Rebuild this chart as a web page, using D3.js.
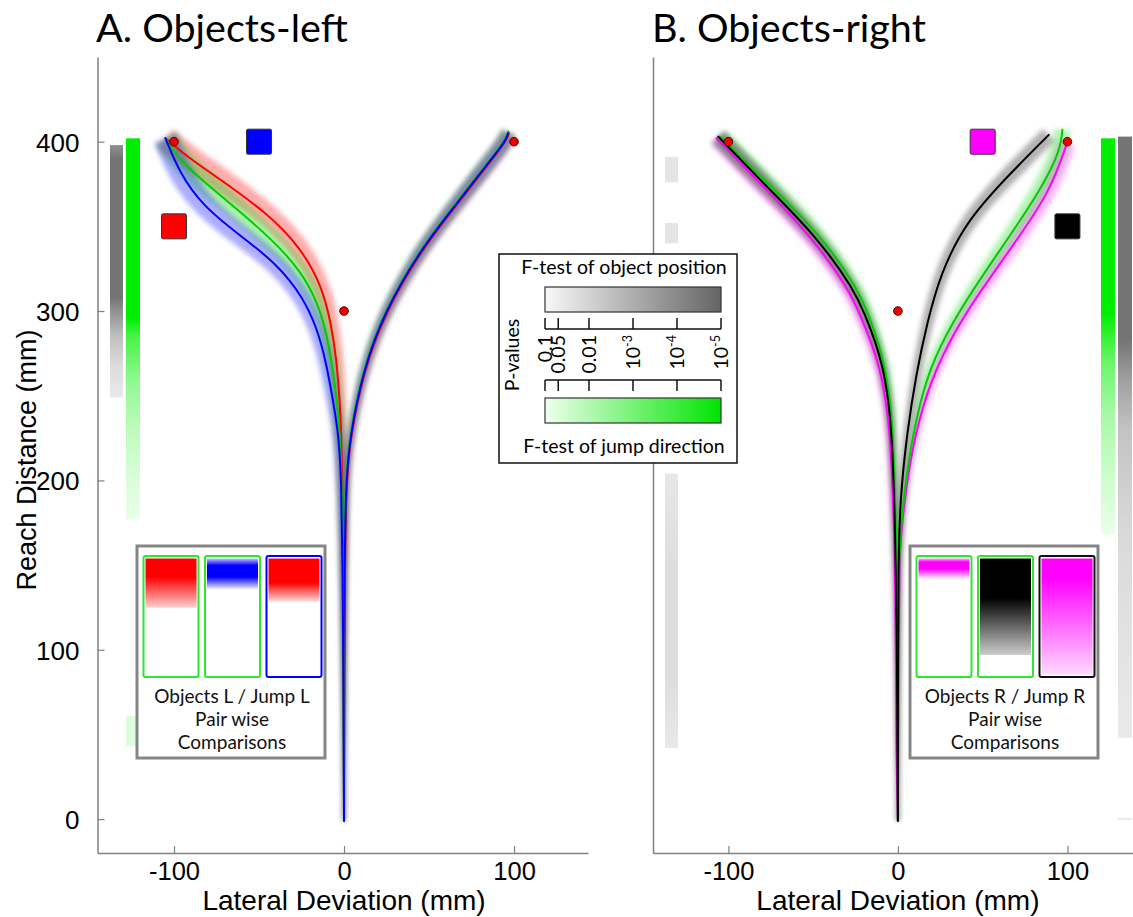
<!DOCTYPE html>
<html><head><meta charset="utf-8">
<script src="https://cdn.jsdelivr.net/npm/d3@7"></script>
<style>body{margin:0;background:#fff}svg{display:block}</style>
</head><body>
<svg id="c" width="1133" height="917"></svg>
<script>
// ---------------- DATA ----------------
const xTicks = [-100, 0, 100];
const yTicks = [0, 100, 200, 300, 400];
const targetDots = [[-100, 400], [100, 400], [0, 300]];
const cuesA = [{x: -100, y: 350, c: "#ff0000"}, {x: -50, y: 400, c: "#0000ff"}];
const cuesB = [{x: 50, y: 400, c: "#ff00ff"}, {x: 100, y: 350, c: "#000000"}];

// Panel A trajectories [lateral mm, reach mm]
const aRedL   = [[0,-1],[-0.3,80],[-0.6,150],[-1,200],[-1.6,225],[-2.4,246],[-4.5,272],[-7.5,292],[-13,315],[-25.9,338],[-45.3,358],[-74.7,379],[-92,391],[-105,402]];
const aGreenL = [[0,-1],[-0.3,80],[-0.7,150],[-1.3,200],[-2.3,225],[-4,246],[-7.5,272],[-12,295],[-20,315],[-33,333],[-55.3,354],[-84.7,378],[-98,391],[-105,402]];
const aBlueL  = [[0,-1],[-0.3,80],[-0.8,150],[-1.6,200],[-3,225],[-6.2,246],[-11,272],[-16,290],[-24,308],[-39.4,328],[-63,346],[-83,362],[-97,382],[-105,402]];
const aRedR   = [[0,-1],[0.2,100],[0.8,196],[3.8,226],[11.6,265],[24.6,300],[45.6,336],[62.6,358],[79.6,380],[95.3,400],[97,405]];
const aGreenR = [[0,-1],[0,100],[0.4,196],[3.2,226],[10.8,265],[23.6,300],[44.5,336],[61.5,358],[78.5,380],[94.5,400],[96.5,406]];
const aBlueR  = [[0,-1],[0.1,100],[0.6,196],[3.5,226],[11.2,265],[24,300],[45,336],[62,358],[79,380],[95,400],[96.5,405]];

// Panel B trajectories
const bMagL   = [[0,-1],[-1,40],[-1.2,110],[-2,169],[-4.5,228],[-7.5,250],[-11,267],[-15.5,281],[-22,297],[-29,313],[-51,344],[-79,373],[-107,402]];
const bGreenL = [[0,-1],[0,60],[-0.3,110],[-1,169],[-2.8,228],[-5,250],[-7.8,267],[-11.5,281],[-17,297],[-23.5,313],[-45,344],[-74,373],[-105,403]];
const bBlackL = [[0,-1],[-0.4,60],[-0.6,110],[-1.5,169],[-3.5,228],[-6,250],[-9,267],[-13,281],[-19,297],[-26,313],[-48,344],[-77,373],[-106,403]];
const bMagR   = [[0,-1],[0.3,100],[0.8,150],[1.8,169],[6.2,208],[14.5,245],[25.5,273],[41,301],[66,336],[89.7,370],[99.7,399]];
const bGreenR = [[0,-1],[0.2,100],[0.6,150],[1.5,169],[5.3,208],[13,247],[21,272],[36.6,301],[56,330],[79.6,364],[95.6,393],[97,407]];
const bBlackR = [[0,-1],[0,100],[0.3,150],[1.2,188],[5.3,228],[11,264],[17,292],[25,322],[40.7,354],[68,383],[89,404]];

// p-value bars along reach distance: reach (mm) and log10(p)
const aPosReach  = [249, 268, 285, 300, 308, 390, 398];
const aPosLogP   = [-1.1, -1.5, -2.3, -3.6, -4.4, -4.4, -3.6];
const aJumpReach = [177, 200, 230, 260, 285, 296, 402];
const aJumpLogP  = [-1.05, -1.3, -1.8, -2.6, -3.8, -5, -5];
const aJump2Reach = [43, 61];
const aJump2LogP  = [-1.25, -1.25];
const bJumpReach = [168, 200, 240, 270, 299, 402];
const bJumpLogP  = [-1.05, -1.5, -2.2, -3.2, -5, -5];
const bPosReach  = [48, 100, 170, 230, 260, 283, 403];
const bPosLogP   = [-1.1, -1.3, -1.6, -2.2, -3.2, -4.4, -4.4];
const bPos2Reach = [-0.5, 0.8];
const bPos2LogP  = [-1.1, -1.1];
const bPosLeft1Reach = [376, 391];
const bPosLeft1LogP  = [-1.25, -1.25];
const bPosLeft2Reach = [340, 352];
const bPosLeft2LogP  = [-1.25, -1.25];
const bPosLeft3Reach = [42, 80, 150, 204];
const bPosLeft3LogP  = [-1.15, -1.45, -1.45, -1.2];

// legend p-value ticks
const pTicks = [0.1, 0.05, 0.01, 1e-3, 1e-4, 1e-5];
const pLabels = [["0.1"], ["0.05"], ["0.01"], ["10", "-3"], ["10", "-4"], ["10", "-5"]];

// pairwise comparison insets: position from top (0..1) and opacity
const insetA = [
  {stroke: "#2ee62e", color: "#ff0000", pos: [0, 0.16, 0.42, 0.425, 1], op: [1, 1, 0.2, 0, 0]},
  {stroke: "#2ee62e", color: "#0000ff", pos: [0, 0.06, 0.16, 0.27, 1], op: [0.25, 1, 1, 0, 0]},
  {stroke: "#0000ff", color: "#ff0000", pos: [0, 0.21, 0.37, 0.375, 1], op: [1, 1, 0.15, 0, 0]}
];
const insetB = [
  {stroke: "#2ee62e", color: "#ff00ff", pos: [0, 0.03, 0.09, 0.18, 1], op: [0.35, 1, 1, 0, 0]},
  {stroke: "#2ee62e", color: "#000000", pos: [0, 0.34, 0.83, 0.835, 1], op: [1, 1, 0.2, 0, 0]},
  {stroke: "#111111", color: "#ff00ff", pos: [0, 0.17, 1], op: [1, 1, 0.15]}
];

// ---------------- DRAW ----------------
const svg = d3.select("#c");
const defs = svg.append("defs");
defs.append("filter").attr("id", "soft").attr("x", "-30%").attr("y", "-10%").attr("width", "160%").attr("height", "120%")
  .append("feGaussianBlur").attr("stdDeviation", 2.4);

const y = d3.scaleLinear().domain([-20, 450]).range([853, 57]);
const xA = d3.scaleLinear().domain([-145, 143.5]).range([97.5, 588]);
const xB = d3.scaleLinear().domain([-144.5, 145]).range([653, 1143.7]);
const grayScale = d3.scaleLinear().domain([-1, -5]).range(["#eeeeee", "#5f5f5f"]);
const greenScale = d3.scaleLinear().domain([-1, -5]).range(["#ecffec", "#00ee00"]);
const AX = "#808080";
const ARIAL = "Liberation Sans, Arial, sans-serif";
const CAL = "Lato, 'Open Sans', sans-serif";
const curve = d3.curveBasis;

let gid = 0;
function pBar(g, x0, w, reach, logp, scale) {
  const id = "pg" + (gid++);
  const r0 = reach[0], r1 = reach[reach.length - 1];
  const grad = defs.append("linearGradient").attr("id", id).attr("gradientUnits", "userSpaceOnUse")
    .attr("x1", 0).attr("x2", 0).attr("y1", y(r0)).attr("y2", y(r1));
  reach.forEach((r, i) => grad.append("stop").attr("offset", (r - r0) / (r1 - r0)).attr("stop-color", scale(logp[i])));
  g.append("rect").attr("x", x0).attr("width", w).attr("y", y(r1)).attr("height", y(r0) - y(r1)).attr("fill", `url(#${id})`);
}

function band(g, x, pts, color, op, hwMax) {
  const line = d3.line().x(d => x(d[0])).y(d => y(d[1])).curve(curve);
  const p = g.append("path").attr("d", line(pts));
  const node = p.node(), L = node.getTotalLength(), n = 240;
  const s = d3.range(n + 1).map(i => node.getPointAtLength(L * i / n));
  p.remove();
  const left = [], right = [];
  s.forEach((pt, i) => {
    const a = s[Math.max(0, i - 2)], b = s[Math.min(n, i + 2)];
    let dx = b.x - a.x, dy = b.y - a.y; const len = Math.hypot(dx, dy) || 1;
    const nx = -dy / len, ny = dx / len;
    const r = Math.min(1, Math.max(0, y.invert(pt.y)) / 380);
    const hw = 0.8 + (hwMax - 0.8) * Math.pow(r, 1.6);
    left.push([pt.x + nx * hw, pt.y + ny * hw]);
    right.push([pt.x - nx * hw, pt.y - ny * hw]);
  });
  g.append("path").attr("d", d3.line()(left.concat(right.reverse())) + "Z")
    .attr("fill", color).attr("fill-opacity", op).attr("filter", "url(#soft)");
}
function traj(g, x, pts, color, w) {
  const line = d3.line().x(d => x(d[0])).y(d => y(d[1])).curve(curve);
  g.append("path").attr("d", line(pts)).attr("fill", "none").attr("stroke", color)
    .attr("stroke-width", w || 2).attr("stroke-linecap", "round");
}

function axes(g, x, showY, title, tx) {
  const xa = d3.axisBottom(x).tickValues(xTicks).tickSize(-7).tickSizeOuter(0).tickFormat(d3.format("d"));
  const gx = g.append("g").attr("transform", `translate(0,${y(-20)})`).call(xa);
  gx.select(".domain").attr("stroke", AX).attr("stroke-width", 1.5);
  gx.selectAll(".tick line").attr("stroke", AX).attr("stroke-width", 1.2);
  gx.selectAll("text").attr("y", 27).attr("dy", 0).attr("font-size", 25.5).attr("font-family", ARIAL).attr("fill", "#000")
    .text(d => d < 0 ? "-" + Math.abs(d) : d);
  const ya = d3.axisLeft(y).tickValues(showY ? yTicks : []).tickSize(-7).tickSizeOuter(0).tickPadding(18);
  const gy = g.append("g").attr("transform", `translate(${x.range()[0]},0)`).call(ya);
  gy.select(".domain").attr("stroke", AX).attr("stroke-width", 1.5);
  gy.selectAll(".tick line").attr("stroke", AX).attr("stroke-width", 1.2);
  gy.selectAll("text").attr("font-size", 26).attr("font-family", ARIAL).attr("fill", "#000").attr("dy", "0.36em");
  g.append("text").attr("x", x(0)).attr("y", 910).attr("text-anchor", "middle").attr("font-family", ARIAL)
    .attr("font-size", 28).text("Lateral Deviation (mm)");
  g.append("text").attr("x", tx).attr("y", 42).attr("font-family", CAL).attr("font-size", 39.5).text(title);
}

function marks(g, x, cues) {
  g.selectAll(".cue").data(cues).join("rect").attr("x", d => x(d.x) - 12.5).attr("y", d => y(d.y) - 12.5)
    .attr("width", 25).attr("height", 25).attr("rx", 1.5).attr("fill", d => d.c).attr("stroke", "#333").attr("stroke-width", 1);
  g.selectAll(".dot").data(targetDots).join("circle").attr("cx", d => x(d[0])).attr("cy", d => y(d[1])).attr("r", 4.3)
    .attr("fill", "#ee0000").attr("stroke", "#550000").attr("stroke-width", 1);
}

function inset(g, x0, y0, w, h, rects, lines) {
  g.append("rect").attr("x", x0).attr("y", y0).attr("width", w).attr("height", h).attr("fill", "#fff")
    .attr("stroke", "#858585").attr("stroke-width", 3);
  const rw = 55, gap = 6.5, rx0 = x0 + 6.5, ry0 = y0 + 10, rh = 121;
  rects.forEach((r, i) => {
    const id = "ins" + (gid++);
    const grad = defs.append("linearGradient").attr("id", id).attr("x1", 0).attr("x2", 0).attr("y1", 0).attr("y2", 1);
    r.pos.forEach((p, k) => grad.append("stop").attr("offset", p).attr("stop-color", r.color).attr("stop-opacity", r.op[k]));
    g.append("rect").attr("x", rx0 + i * (rw + gap)).attr("y", ry0).attr("width", rw).attr("height", rh).attr("rx", 2)
      .attr("fill", "#fff").attr("stroke", r.stroke).attr("stroke-width", 2);
    g.append("rect").attr("x", rx0 + i * (rw + gap) + 2).attr("y", ry0 + 2.5).attr("width", rw - 4).attr("height", rh - 5)
      .attr("fill", `url(#${id})`);
  });
  lines.forEach((t, i) => g.append("text").attr("x", x0 + w / 2 + 1).attr("y", y0 + 157 + i * 23).attr("text-anchor", "middle")
    .attr("font-family", CAL).attr("font-size", 19).attr("fill", "#111").text(t));
}

// ---- Panel A ----
const gA = svg.append("g");
pBar(gA, 110, 13, aPosReach, aPosLogP, grayScale);
pBar(gA, 126, 14, aJumpReach, aJumpLogP, greenScale);
pBar(gA, 126, 14, aJump2Reach, aJump2LogP, greenScale);
axes(gA, xA, true, "A. Objects-left", 96);
gA.append("text").attr("transform", `translate(36,460) rotate(-90)`).attr("text-anchor", "middle").attr("font-family", ARIAL)
  .attr("font-size", 27).text("Reach Distance (mm)");
[[aRedR, "#ff0000"], [aGreenR, "#00dd00"], [aBlueR, "#0000ff"]].forEach(([p, c]) => band(gA, xA, p, c, 0.3, 7.5));
[[aRedL, "#ff0000"], [aGreenL, "#00dd00"], [aBlueL, "#0000ff"]].forEach(([p, c]) => band(gA, xA, p, c, 0.32, 12));
[[aRedR, "#ff0000"], [aGreenR, "#00cc00"], [aBlueR, "#0000ff"]].forEach(([p, c]) => traj(gA, xA, p, c));
[[aRedL, "#ff0000"], [aGreenL, "#00cc00"], [aBlueL, "#0000ff"]].forEach(([p, c]) => traj(gA, xA, p, c));
marks(gA, xA, cuesA);
inset(gA, 137, 546, 188, 212, insetA, ["Objects L / Jump L", "Pair wise", "Comparisons"]);

// ---- Panel B ----
const gB = svg.append("g");
pBar(gB, 665, 13, bPosLeft1Reach, bPosLeft1LogP, grayScale);
pBar(gB, 665, 13, bPosLeft2Reach, bPosLeft2LogP, grayScale);
pBar(gB, 665, 13, bPosLeft3Reach, bPosLeft3LogP, grayScale);
pBar(gB, 1101, 14, bJumpReach, bJumpLogP, greenScale);
pBar(gB, 1118, 14, bPosReach, bPosLogP, grayScale);
pBar(gB, 1118, 14, bPos2Reach, bPos2LogP, grayScale);
axes(gB, xB, false, "B. Objects-right", 652);
[[bMagL, "#ff00ff"], [bGreenL, "#00dd00"], [bBlackL, "#000000"]].forEach(([p, c]) => band(gB, xB, p, c, 0.3, 8.5));
[[bMagR, "#ff00ff"], [bGreenR, "#00dd00"], [bBlackR, "#000000"]].forEach(([p, c]) => band(gB, xB, p, c, 0.3, 8.5));
[[bMagL, "#ff00ff"], [bGreenL, "#00cc00"], [bBlackL, "#000000"]].forEach(([p, c]) => traj(gB, xB, p, c));
[[bMagR, "#ff00ff"], [bGreenR, "#00cc00"], [bBlackR, "#000000"]].forEach(([p, c]) => traj(gB, xB, p, c));
marks(gB, xB, cuesB);
inset(gB, 910, 546, 188, 212, insetB, ["Objects R / Jump R", "Pair wise", "Comparisons"]);

// ---- Central legend ----
const gL = svg.append("g");
gL.append("rect").attr("x", 499).attr("y", 254).attr("width", 238).attr("height", 209).attr("fill", "#fff")
  .attr("stroke", "#111").attr("stroke-width", 1.5);
gL.append("text").attr("x", 624).attr("y", 274).attr("text-anchor", "middle").attr("font-family", CAL).attr("font-size", 19.5)
  .text("F-test of object position");
gL.append("text").attr("x", 624).attr("y", 453).attr("text-anchor", "middle").attr("font-family", CAL).attr("font-size", 19.5)
  .text("F-test of jump direction");
const pS = d3.scaleLog().domain([0.1, 1e-5]).range([545, 721]);
function legBar(yy, scale) {
  const id = "lg" + (gid++);
  const grad = defs.append("linearGradient").attr("id", id).attr("gradientUnits", "userSpaceOnUse")
    .attr("x1", pS(0.1)).attr("x2", pS(1e-5)).attr("y1", 0).attr("y2", 0);
  pTicks.forEach(p => grad.append("stop").attr("offset", (pS(p) - pS(0.1)) / (pS(1e-5) - pS(0.1)))
    .attr("stop-color", scale(Math.log10(p))));
  gL.append("rect").attr("x", pS(0.1)).attr("y", yy).attr("width", pS(1e-5) - pS(0.1)).attr("height", 25)
    .attr("fill", `url(#${id})`).attr("stroke", "#333").attr("stroke-width", 1.2);
}
legBar(287, d3.scaleLinear().domain([-1, -5]).range(["#f8f8f8", "#646464"]));
legBar(398, d3.scaleLinear().domain([-1, -5]).range(["#eeffee", "#00e400"]));
const br = (yl, yt) => {
  gL.append("line").attr("x1", pS(0.1)).attr("x2", pS(1e-5)).attr("y1", yl).attr("y2", yl).attr("stroke", "#111").attr("stroke-width", 1.5);
  gL.selectAll(null).data(pTicks).join("line").attr("x1", d => pS(d)).attr("x2", d => pS(d)).attr("y1", yl).attr("y2", yt)
    .attr("stroke", "#111").attr("stroke-width", 1.5);
};
br(329, 318);
br(380, 391);
pTicks.forEach((p, i) => {
  const t = gL.append("text").attr("transform", `translate(${pS(p) + 7},335) rotate(-90)`).attr("text-anchor", "end")
    .attr("font-family", CAL).attr("font-size", 19.5);
  t.append("tspan").text(pLabels[i][0]);
  if (pLabels[i][1]) t.append("tspan").attr("font-size", 12.5).attr("dy", -8).text(pLabels[i][1]);
});
gL.append("text").attr("transform", "translate(519,355) rotate(-90)").attr("text-anchor", "middle")
  .attr("font-family", CAL).attr("font-size", 19.5).text("P-values");
</script>
</body></html>
